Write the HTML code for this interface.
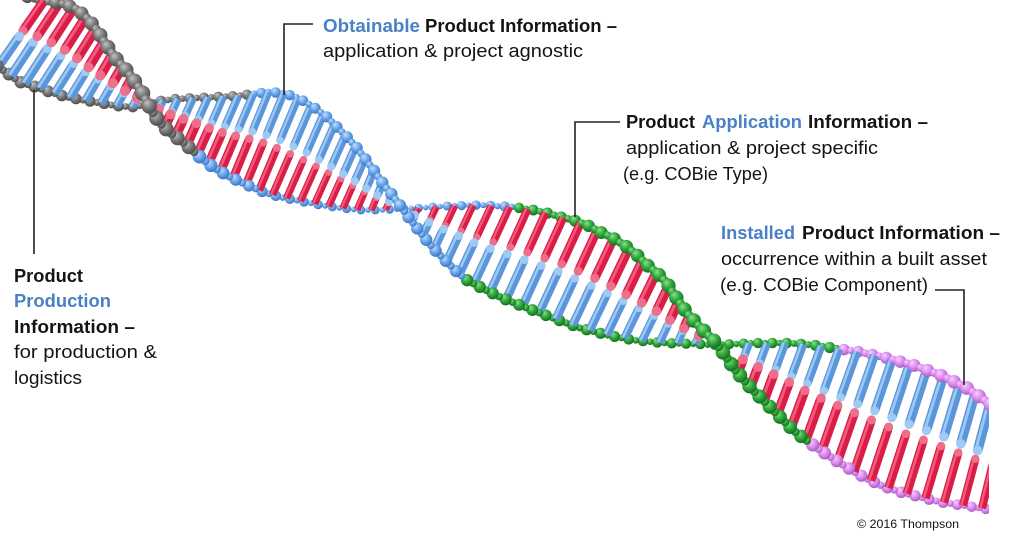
<!DOCTYPE html>
<html><head><meta charset="utf-8">
<style>
html,body{margin:0;padding:0;background:#fff;}
svg{display:block;}
text{font-family:"Liberation Sans",Arial,sans-serif;font-size:18px;fill:#141414;}
.b{font-weight:bold;}
.bl{fill:#4a80c6;font-weight:bold;}
</style></head>
<body>
<svg id="s" width="1024" height="542" viewBox="0 0 1024 542" xmlns="http://www.w3.org/2000/svg">
<defs>
 <radialGradient id="ggray" cx="0.42" cy="0.38" r="0.62" fx="0.34" fy="0.28">
   <stop offset="0" stop-color="#c4c4c4"/><stop offset="0.55" stop-color="#7a7a7a"/><stop offset="1" stop-color="#4c4c4c"/>
 </radialGradient>
 <radialGradient id="gblue" cx="0.42" cy="0.38" r="0.62" fx="0.34" fy="0.28">
   <stop offset="0" stop-color="#c4e0ff"/><stop offset="0.55" stop-color="#6aa6ec"/><stop offset="1" stop-color="#3d76c0"/>
 </radialGradient>
 <radialGradient id="ggreen" cx="0.42" cy="0.38" r="0.62" fx="0.34" fy="0.28">
   <stop offset="0" stop-color="#8ee08e"/><stop offset="0.55" stop-color="#2fa83b"/><stop offset="1" stop-color="#166e1f"/>
 </radialGradient>
 <radialGradient id="gpink" cx="0.42" cy="0.38" r="0.62" fx="0.34" fy="0.28">
   <stop offset="0" stop-color="#f6d2ff"/><stop offset="0.55" stop-color="#de8df0"/><stop offset="1" stop-color="#a95cc2"/>
 </radialGradient>
 <clipPath id="clip"><rect x="0" y="0" width="989" height="542"/></clipPath>
</defs>
<g id="helix" clip-path="url(#clip)"></g>
<g stroke="#222" stroke-width="1.6" fill="none">
  <polyline points="313,24 284,24 284,95"/>
  <polyline points="620,122 575,122 575,217"/>
  <polyline points="935,290 964,290 964,385"/>
  <line x1="34" y1="90" x2="34" y2="254"/>
</g>
<g>
  <text x="323" y="32" class="bl" textLength="97" lengthAdjust="spacingAndGlyphs">Obtainable</text>
  <text x="425" y="32" class="b" textLength="192" lengthAdjust="spacingAndGlyphs">Product Information –</text>
  <text x="323" y="57" textLength="260" lengthAdjust="spacingAndGlyphs">application &amp; project agnostic</text>

  <text x="626" y="128" class="b" textLength="69" lengthAdjust="spacingAndGlyphs">Product</text>
  <text x="702" y="128" class="bl" textLength="100" lengthAdjust="spacingAndGlyphs">Application</text>
  <text x="808" y="128" class="b" textLength="120" lengthAdjust="spacingAndGlyphs">Information –</text>
  <text x="626" y="154" textLength="252" lengthAdjust="spacingAndGlyphs">application &amp; project specific</text>
  <text x="623" y="180" textLength="145" lengthAdjust="spacingAndGlyphs">(e.g. COBie Type)</text>

  <text x="721" y="239" class="bl" textLength="74" lengthAdjust="spacingAndGlyphs">Installed</text>
  <text x="802" y="239" class="b" textLength="198" lengthAdjust="spacingAndGlyphs">Product Information –</text>
  <text x="721" y="265" textLength="266" lengthAdjust="spacingAndGlyphs">occurrence within a built asset</text>
  <text x="720" y="291" textLength="208" lengthAdjust="spacingAndGlyphs">(e.g. COBie Component)</text>

  <text x="14" y="282" class="b" textLength="69" lengthAdjust="spacingAndGlyphs">Product</text>
  <text x="14" y="307" class="bl" textLength="97" lengthAdjust="spacingAndGlyphs">Production</text>
  <text x="14" y="333" class="b" textLength="121" lengthAdjust="spacingAndGlyphs">Information –</text>
  <text x="14" y="358" textLength="143" lengthAdjust="spacingAndGlyphs">for production &amp;</text>
  <text x="14" y="384" textLength="68" lengthAdjust="spacingAndGlyphs">logistics</text>

  <text x="857" y="528" style="font-size:12px" textLength="102" lengthAdjust="spacingAndGlyphs">© 2016 Thompson</text>
</g>
</svg>
<script>
(function(){
var NS="http://www.w3.org/2000/svg";
var S1=[[0,-12,0.35],[20,-5],[40,0],[60,3],[75,8],[87,18],[97,30],[107,46],[117,60],[127,71],[135,82],[142,92],[148,104,1],[155,116],[163,126],[172,134],[183,142],[192,150],[200,157],[213,167],[230,177],[247,185],[263,192],[280,197],[300,201],[320,205],[340,208],[360,210],[380,210],[400,209,2],[420,208],[447,206],[480,205],[513,207],[533,210],[547,213],[560,217],[573,220],[587,225],[600,232],[613,238],[627,247],[637,255],[647,265],[657,273],[667,283],[673,293],[680,303],[687,313],[695,322],[705,332],[715,342,3],[725,355],[733,367],[743,379],[753,390],[763,400],[773,410],[783,420],[793,430],[803,438],[820,450],[840,463],[860,475],[880,485],[900,492],[920,497],[940,502],[960,505],[980,508],[1000,511],[1020,513,3.95]];
var S2=[[-15,58,0.45],[0,68],[13,77],[20,82],[33,86],[50,92],[67,97],[83,100],[100,103],[117,106],[133,107],[148,104,1],[160,101],[175,99],[195,98],[215,97],[235,96],[253,94],[268,92],[283,93],[296,97],[307,103],[318,110],[327,117],[337,127],[347,137],[357,148],[366,160],[375,172],[384,185],[393,196],[401,207,2],[410,219],[420,232],[433,248],[447,262],[457,272],[467,280],[480,287],[500,297],[527,308],[553,318],[580,328],[607,335],[633,340],[663,343],[697,344],[713,345,3],[733,344],[760,343],[787,343],[813,345],[840,349],[860,352],[887,358],[913,365],[940,375],[967,388],[990,404],[1020,424,3.9]];
function prep(t){
  var n=t.length,L=[0],i;
  for(i=1;i<n;i++){var dx=t[i][0]-t[i-1][0],dy=t[i][1]-t[i-1][1];L.push(L[i-1]+Math.sqrt(dx*dx+dy*dy));}
  var anc=[];for(i=0;i<n;i++)if(t[i].length>2)anc.push(i);
  var U=new Array(n);
  for(var a=0;a<anc.length-1;a++){var i0=anc[a],i1=anc[a+1];for(i=i0;i<=i1;i++){U[i]=t[i0][2]+(t[i1][2]-t[i0][2])*(L[i]-L[i0])/(L[i1]-L[i0]);}}
  return {t:t,L:L,U:U,n:n,total:L[n-1]};
}
function atL(s,l){
  for(var i=1;i<s.n;i++){if(s.L[i]>=l){var f=(l-s.L[i-1])/((s.L[i]-s.L[i-1])||1);
    return [s.t[i-1][0]+f*(s.t[i][0]-s.t[i-1][0]),s.t[i-1][1]+f*(s.t[i][1]-s.t[i-1][1]),s.U[i-1]+f*(s.U[i]-s.U[i-1])];}}
  var e=s.t[s.n-1];return [e[0],e[1],s.U[s.n-1]];
}
function atU(s,u){
  if(u<s.U[0])return null;
  for(var i=1;i<s.n;i++){if(s.U[i]>=u){var f=(u-s.U[i-1])/((s.U[i]-s.U[i-1])||1);
    return [s.t[i-1][0]+f*(s.t[i][0]-s.t[i-1][0]),s.t[i-1][1]+f*(s.t[i][1]-s.t[i-1][1])];}}
  return null;
}
var SC=[[0,1.05],[150,1.05],[300,0.85],[420,0.85],[600,1.0],[1000,1.0]];
function sc(x){
  if(x<=SC[0][0])return SC[0][1];
  for(var i=1;i<SC.length;i++){if(x<=SC[i][0]){var f=(x-SC[i-1][0])/(SC[i][0]-SC[i-1][0]);return SC[i-1][1]+f*(SC[i][1]-SC[i-1][1]);}}
  return SC[SC.length-1][1];
}
function col1(x){return x<195?"gray":x<516?"blue":x<807?"green":"pink";}
function col2(x){return x<253?"gray":x<467?"blue":x<842?"green":"pink";}
var A=prep(S1),B=prep(S2);
var items=[];
function el(tag,attrs){var e=document.createElementNS(NS,tag);for(var k in attrs)e.setAttribute(k,attrs[k]);return e;}
function beads(s,sign,colf){
  var k=0;
  for(var l=0;l<=s.total;l+=7.2,k++){
    var p=atL(s,l);var z=sign*(-Math.cos(Math.PI*p[2]));
    var r=(k%2?3.9:6.2)*sc(p[0])*(1+0.18*z);
    items.push({z:z+0.01+(k%2?0:0.002),e:el("circle",{cx:p[0].toFixed(1),cy:p[1].toFixed(1),r:r.toFixed(2),fill:"url(#g"+colf(p[0])+")"})});
  }
}
beads(A,1,col1);beads(B,-1,col2);
function rung(p,q,w,base,hi,cap,z){
  var dx=q[0]-p[0],dy=q[1]-p[1],len=Math.sqrt(dx*dx+dy*dy);
  var nx=-dy/len,ny=dx/len;if(nx+ny>0){nx=-nx;ny=-ny;}
  var g=el("g",{});
  g.appendChild(el("line",{x1:p[0].toFixed(1),y1:p[1].toFixed(1),x2:q[0].toFixed(1),y2:q[1].toFixed(1),stroke:base,"stroke-width":w.toFixed(2)}));
  var o=w*0.2;
  g.appendChild(el("line",{x1:(p[0]+nx*o).toFixed(1),y1:(p[1]+ny*o).toFixed(1),x2:(q[0]+nx*o).toFixed(1),y2:(q[1]+ny*o).toFixed(1),stroke:hi,"stroke-width":(w*0.3).toFixed(2)}));
  g.appendChild(el("circle",{cx:q[0].toFixed(1),cy:q[1].toFixed(1),r:(w*0.5).toFixed(2),fill:cap}));
  items.push({z:z,e:g});
}
for(var u=0.35;u<=3.95;u+=1/20){
  var p1=atU(A,u),p2=atU(B,u);if(!p1||!p2)continue;
  var dx=p2[0]-p1[0],dy=p2[1]-p1[1],len=Math.sqrt(dx*dx+dy*dy);if(len<14)continue;
  var z1=-Math.cos(Math.PI*u);
  var w=9*sc((p1[0]+p2[0])/2);
  var f=0.46;
  rung(p1,[p1[0]+dx*f,p1[1]+dy*f],w*(1+0.1*z1),"#d91d47","#f25b7b","#ee6f8b",z1*0.5);
  rung(p2,[p2[0]-dx*f,p2[1]-dy*f],w*(1-0.1*z1),"#5b96da","#9cc8f4","#9fcaf4",-z1*0.5);
}
items.sort(function(a,b){return a.z-b.z;});
var h=document.getElementById("helix");
for(var i=0;i<items.length;i++)h.appendChild(items[i].e);
})();
</script>
</body></html>
